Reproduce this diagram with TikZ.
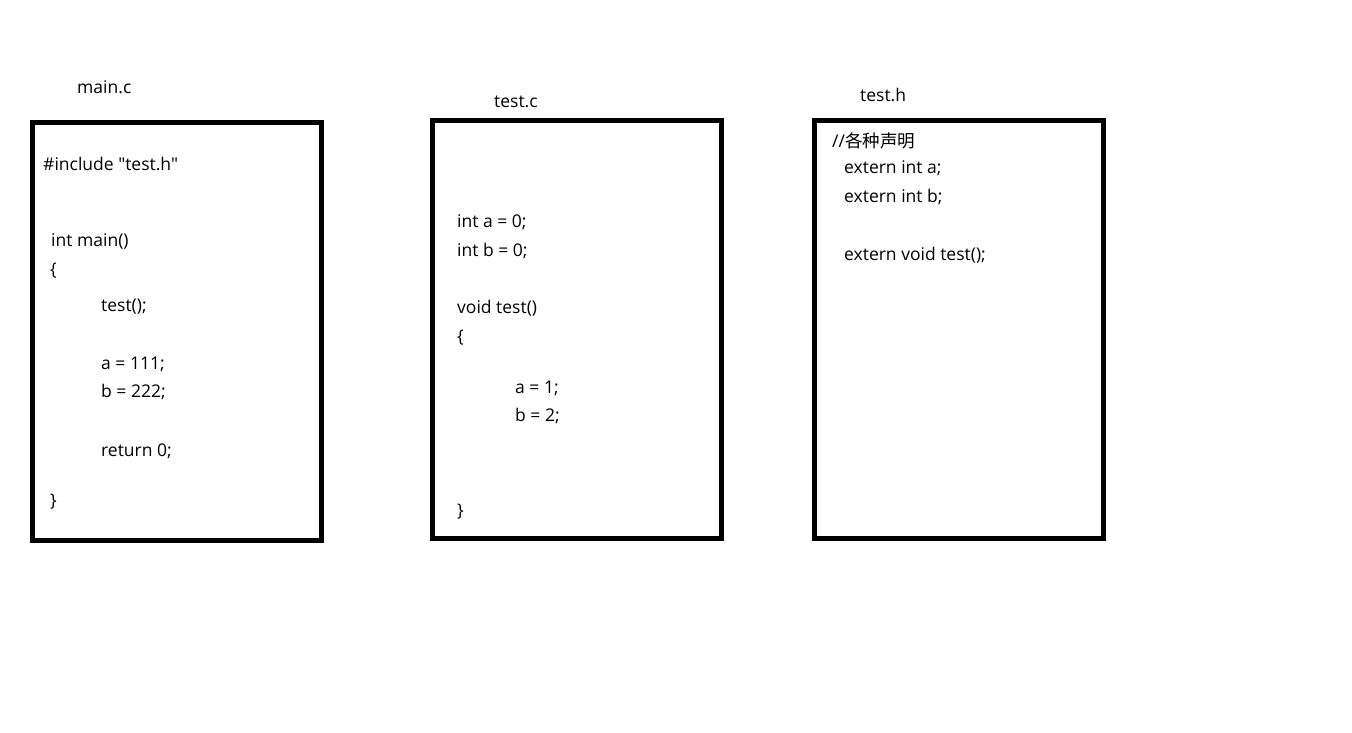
\documentclass[tikz,border=0pt]{standalone}
\usepackage{fontspec}
\setmainfont{Open Sans}[Ligatures=TeXOff]
\newfontfamily\cjk{Noto Sans CJK SC}[Ligatures=TeXOff]
\tikzset{
  filebox/.style={draw, line width=5pt, minimum width=289pt, minimum height=417.5pt},
  code/.style={anchor=base west, inner sep=0pt, font=\fontsize{17.5}{21}\selectfont}
}
\begin{document}
\begin{tikzpicture}[x=1pt,y=-1pt]
\useasboundingbox (0,0) rectangle (1352,733);
% boxes
\node[filebox] (mainc) at (177,331.25) {};
\node[filebox] (testc) at (577,329.75) {};
\node[filebox] (testh) at (959,329.75) {};

% file names
\node[code] (mainname) at (77,94) {main.c};
\node[code] (testcname) at (494,108) {test.c};
\node[code] (testhname) at (860,102) {test.h};

% main.c
\node[code] (incl) at (43,171) {\#include "test.h"};
\node[code] (mainfn) at (51,246) {int main()};
\node[code] (mainopen) at (50,275) {\{};
\node[code] (calltest) at (101,311) {test();};
\node[code] (seta) at (101,369) {a = 111;};
\node[code] (setb) at (101,397) {b = 222;};
\node[code] (ret) at (101,456) {return 0;};
\node[code] (mainclose) at (50,506) {\}};

% test.c
\node[code] (defa) at (457,227) {int a = 0;};
\node[code] (defb) at (457,256) {int b = 0;};
\node[code] (testfn) at (457,313) {void test()};
\node[code] (testopen) at (457,342) {\{};
\node[code] (assa) at (515,393) {a = 1;};
\node[code] (assb) at (515,421) {b = 2;};
\node[code] (testclose) at (457,516) {\}};

% test.h
\node[code] (comment) at (832,147) {//{\cjk 各种声明}};
\node[code] (externa) at (844,173) {extern int a;};
\node[code] (externb) at (844,202) {extern int b;};
\node[code] (externfn) at (844,260) {extern void test();};
\end{tikzpicture}
\end{document}
